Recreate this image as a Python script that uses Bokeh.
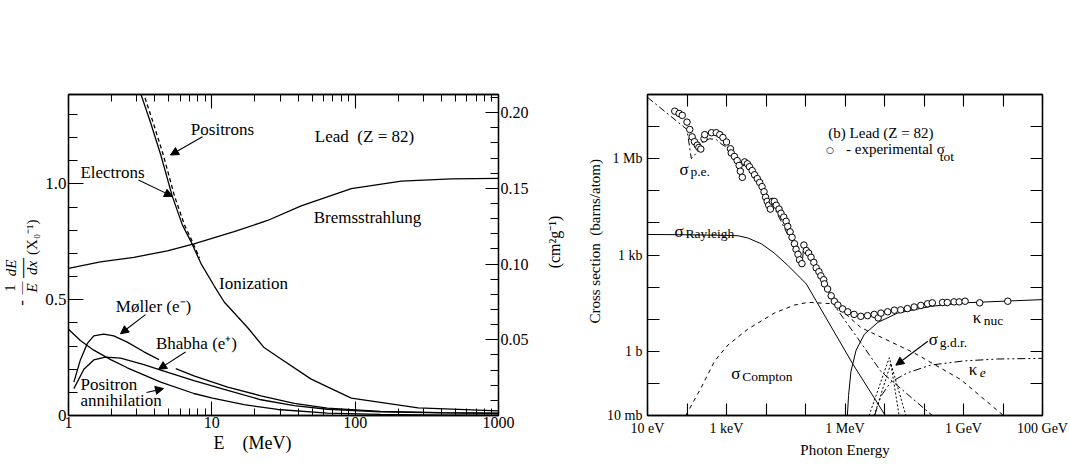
import math
from bokeh.plotting import figure
from bokeh.models import (Range1d, LinearAxis, LogAxis, FixedTicker, Title,
                          CustomJSTickFormatter, Label, Arrow, NormalHead)
from bokeh.layouts import row
from bokeh.embed import file_html
from bokeh.resources import INLINE

# ---------------- Left panel data: -(1/E) dE/dx  [X0^-1], E in MeV ----------------
brems_E = [1, 1.67, 2.86, 4.9, 7.5, 14.3, 24.5, 42, 94, 210, 470, 1000]
brems_y = [0.635, 0.663, 0.683, 0.711, 0.741, 0.794, 0.842, 0.905, 0.98, 1.012, 1.022, 1.024]

ion_el_E = [3.15, 3.74, 4.4, 5.3, 6.24, 7.14, 8.4, 10.4, 12.2, 17.8, 23, 28.8, 49, 68, 94, 275, 1000]
ion_el_y = [1.40, 1.264, 1.126, 0.946, 0.822, 0.752, 0.656, 0.559, 0.49, 0.379, 0.295, 0.254,
            0.158, 0.116, 0.075, 0.033, 0.02]

ion_pos_E = [3.3, 3.9, 4.58, 5.5, 6.45, 7.3, 8.2]
ion_pos_y = [1.40, 1.264, 1.126, 0.946, 0.822, 0.752, 0.68]

moller_E_a = [1.09, 1.21, 1.35, 1.5, 1.76, 2.07, 2.57, 3.36, 4.28]
moller_y_a = [0.144, 0.24, 0.31, 0.344, 0.351, 0.344, 0.317, 0.275, 0.241]
moller_E_b = [5.6, 7.5, 12.9, 22, 37.6, 64, 150, 400, 1000]
moller_y_b = [0.202, 0.171, 0.123, 0.085, 0.052, 0.032, 0.018, 0.012, 0.010]

bhabha_E = [1.09, 1.28, 1.5, 1.81, 2.31, 3.36, 4.4, 7.5, 12.9, 22, 37.6, 64, 150, 400, 1000]
bhabha_y = [0.116, 0.2, 0.24, 0.252, 0.248, 0.22, 0.196, 0.151, 0.109, 0.068, 0.043, 0.027,
            0.016, 0.011, 0.009]

annih_E = [1, 1.21, 1.5, 1.97, 2.57, 4.4, 7.5, 10.1, 16.8, 28.8, 64, 150, 400, 1000]
annih_y = [0.372, 0.324, 0.282, 0.241, 0.206, 0.144, 0.095, 0.075, 0.047, 0.026, 0.010, 0.005,
           0.002, 0.001]

left_x_ticks = [1, 10, 100, 1000]
left_y_ticks = [0, 0.5, 1.0]
right_y_ticks = [0.05, 0.10, 0.15, 0.20]

# ---------------- Right panel data: log10(E / eV), log10(sigma / barn) ----------------
exp_logE = [1.69, 1.80, 1.88, 2.00, 2.07, 2.13, 2.19, 2.26, 2.30, 2.35, 2.43, 2.45, 2.62, 2.74,
            2.83, 2.91, 3.00, 3.10, 3.12, 3.20, 3.27, 3.32, 3.35, 3.40, 3.46, 3.53, 3.58, 3.65,
            3.71, 3.78, 3.84, 3.90, 3.95, 3.99, 4.03, 4.07, 4.11, 4.16, 4.21, 4.26, 4.33, 4.38,
            4.45, 4.51, 4.55, 4.61, 4.66, 4.72, 4.76, 4.81, 4.85, 4.91, 4.96, 5.02, 5.08, 5.14,
            5.21, 5.27, 5.34, 5.39, 5.46, 5.48, 5.56, 5.65, 5.73, 5.82, 5.94, 6.07, 6.23, 6.40,
            6.57, 6.74, 6.84, 6.91, 7.08, 7.25, 7.41, 7.58, 7.75, 7.92, 8.09, 8.21, 8.47, 8.59,
            8.76, 8.89, 9.04, 9.41, 10.12]
exp_logS = [7.48, 7.41, 7.35, 7.14, 6.91, 6.68, 6.53, 6.42, 6.35, 6.30, 6.62, 6.75, 6.81, 6.81,
            6.75, 6.66, 6.52, 6.31, 6.18, 6.07, 5.94, 5.79, 5.61, 5.42, 5.90, 5.84, 5.75, 5.63,
            5.50, 5.38, 5.26, 5.13, 4.97, 4.80, 4.67, 4.55, 4.43, 4.67, 4.67, 4.55, 4.43, 4.30,
            4.18, 4.05, 3.89, 3.72, 3.55, 3.35, 3.18, 3.02, 2.85, 2.73, 3.31, 3.14, 3.06, 2.93,
            2.77, 2.60, 2.48, 2.35, 2.23, 2.10, 1.94, 1.73, 1.56, 1.44, 1.32, 1.23, 1.15, 1.09,
            1.11, 1.15, 1.04, 1.19, 1.23, 1.28, 1.29, 1.33, 1.38, 1.43, 1.48, 1.51, 1.52, 1.52,
            1.54, 1.54, 1.56, 1.51, 1.56]

pe_logE = [1.00, 2.00, 2.11, 2.32, 2.41, 2.57, 2.74, 2.87, 3.10, 3.38, 3.44, 3.97, 4.10, 4.14,
           4.92, 4.95, 5.46, 5.77, 6.32, 6.91, 8.21]
pe_logS = [7.91, 6.91, 6.00, 6.29, 6.54, 6.62, 6.60, 6.46, 6.28, 5.40, 5.88, 4.88, 4.42, 4.65,
           2.72, 3.30, 2.20, 1.36, 0.41, -0.63, -2.00]

ray_logE = [1.00, 2.00, 3.00, 3.29, 3.54, 3.88, 4.21, 4.55, 5.02, 6.19, 7.02]
ray_logS = [3.64, 3.63, 3.61, 3.60, 3.53, 3.35, 3.06, 2.68, 2.10, -0.38, -2.00]

comp_logE = [1.97, 2.36, 2.70, 3.04, 3.54, 4.21, 4.72, 5.04, 5.14, 5.73, 6.40, 7.75, 8.93, 10.01]
comp_logS = [-2.00, -1.13, -0.30, 0.20, 0.69, 1.19, 1.44, 1.52, 1.52, 1.48, 0.74, -0.05, -0.88, -2.00]

knuc_logE = [6.06, 6.07, 6.09, 6.15, 6.28, 6.49, 6.83, 7.33, 8.17, 9.01, 11.0]
knuc_logS = [-2.00, -1.80, -1.38, -0.63, 0.03, 0.53, 0.90, 1.19, 1.40, 1.51, 1.61]

ke_logE = [6.75, 6.91, 7.16, 7.58, 8.17, 9.01, 9.86, 11.0]
ke_logS = [-2.00, -1.40, -0.96, -0.67, -0.43, -0.30, -0.24, -0.22]

gdr1_logE = [6.61, 7.12, 7.54]
gdr1_logS = [-2.00, -0.20, -2.00]
gdr2_logE = [6.74, 7.16, 7.37]
gdr2_logS = [-2.00, -0.38, -2.00]

energy_ticks = [10.0 ** k for k in range(1, 12)]
energy_labels = {"1": "10 eV", "3": "1 keV", "6": "1 MeV", "9": "1 GeV", "11": "100 GeV"}
sigma_ticks = [10.0 ** k for k in range(-2, 9)]
sigma_labels = {"-2": "10 mb", "0": "1 b", "3": "1 kb", "6": "1 Mb"}

F = "Liberation Serif"
ROT = math.pi / 2
NB = "\u00a0"


def style_axis(ax, size, tin, mtin, standoff):
    ax.axis_line_color = "black"
    ax.axis_line_width = 1.3
    ax.major_tick_in = tin
    ax.major_tick_out = 0
    ax.minor_tick_in = mtin
    ax.minor_tick_out = 0
    ax.major_tick_line_color = "black"
    ax.minor_tick_line_color = "black"
    ax.major_tick_line_width = 1.1
    ax.minor_tick_line_width = 1.0
    ax.major_label_text_font = F
    ax.major_label_text_font_size = size
    ax.major_label_text_color = "black"
    ax.major_label_standoff = standoff


def lab(p, pos, px, py, text, size, align="center", baseline="middle",
        angle=0.0, style="normal", font=F):
    x, y = pos(px, py)
    p.add_layout(Label(x=x, y=y, text=text, text_font=font, text_font_size=size,
                       text_align=align, text_baseline=baseline, angle=angle,
                       text_font_style=style, text_color="black"))


def arrow(p, pos, x0, y0, x1, y1):
    xs, ys = pos(x0, y0)
    xe, ye = pos(x1, y1)
    p.add_layout(Arrow(end=NormalHead(size=8, fill_color="black", line_color="black", line_width=1),
                       x_start=xs, y_start=ys, x_end=xe, y_end=ye,
                       line_color="black", line_width=1.1))


def strip(width, x0):
    s = figure(width=width, height=468, x_range=Range1d(x0, x0 + width), y_range=Range1d(468, 0),
               x_axis_location=None, y_axis_location=None, output_backend="svg",
               toolbar_location=None, min_border=0, outline_line_color=None)
    s.grid.visible = False
    s.background_fill_color = "white"
    s.border_fill_color = "white"
    return s


def ident(px, py):
    return px, py


# ============================ LEFT STRIP: y-axis title ============================
s1 = strip(42, 0)
lab(s1, ident, 21, 304, "-", "17px", angle=ROT)
lab(s1, ident, 9, 282, "1", "15px", angle=ROT)
lab(s1, ident, 20, 282, "—", "13px", angle=ROT)
lab(s1, ident, 31, 282, "E", "15px", angle=ROT, style="italic")
lab(s1, ident, 10, 253, "dE", "15px", angle=ROT, style="italic")
lab(s1, ident, 21, 253, "—", "20px", angle=ROT)
lab(s1, ident, 31, 253, "dx", "15px", angle=ROT, style="italic")
lab(s1, ident, 31, 208, "(X₀⁻¹)", "15px", angle=ROT)

# ============================ LEFT PANEL ============================
p1 = figure(width=498, height=468, x_axis_type="log",
            x_range=Range1d(1, 1000), y_range=Range1d(0, 1.386),
            output_backend="svg", toolbar_location=None,
            min_border_left=26, min_border_right=42, min_border_top=94, min_border_bottom=40)
p1.xgrid.visible = False
p1.ygrid.visible = False
p1.outline_line_color = "black"
p1.outline_line_width = 1.3
p1.background_fill_color = "white"
p1.border_fill_color = "white"
p1.extra_y_ranges = {"cm": Range1d(0, 0.212)}

x_minor = [m * d for d in (1, 10, 100) for m in range(2, 10)]
xt1 = FixedTicker(ticks=left_x_ticks, minor_ticks=x_minor)
p1.xaxis.ticker = xt1
p1.xaxis.formatter = CustomJSTickFormatter(code="return String(Math.round(tick));")
style_axis(p1.xaxis[0], "16px", 14, 7, 1)

p1.yaxis.ticker = FixedTicker(ticks=left_y_ticks, minor_ticks=[round(0.1 * i, 2) for i in range(0, 14)])
p1.yaxis.formatter = CustomJSTickFormatter(code="return tick == 0 ? '0' : tick.toFixed(1);")
style_axis(p1.yaxis[0], "17px", 15, 9, 2)

top1 = LogAxis(ticker=xt1, formatter=CustomJSTickFormatter(code="return '';"))
style_axis(top1, "1px", 14, 7, 0)
p1.add_layout(top1, "above")

right1 = LinearAxis(y_range_name="cm",
                    ticker=FixedTicker(ticks=right_y_ticks,
                                       minor_ticks=[round(0.01 * i, 2) for i in range(1, 22)]),
                    formatter=CustomJSTickFormatter(code="return tick.toFixed(2);"))
style_axis(right1, "16px", 13, 8, 2)
p1.add_layout(right1, "right")

p1.add_layout(Title(text="E" + NB * 4 + "(MeV)", align="left", offset=145, standoff=0,
                    text_font=F, text_font_size="18px", text_font_style="normal",
                    text_color="black"), "below")

LW1 = 1.3
p1.line(brems_E, brems_y, line_color="black", line_width=LW1)
p1.line(ion_el_E, ion_el_y, line_color="black", line_width=LW1)
p1.line(ion_pos_E, ion_pos_y, line_color="black", line_width=LW1, line_dash="4 3")
p1.line(moller_E_a, moller_y_a, line_color="black", line_width=LW1)
p1.line(moller_E_b, moller_y_b, line_color="black", line_width=LW1)
p1.line(bhabha_E, bhabha_y, line_color="black", line_width=LW1)
p1.line(annih_E, annih_y, line_color="black", line_width=LW1)


def p1_pos(px, py):
    return 10 ** ((px - 68) / (430 / 3.0)), (428 - py) / (334 / 1.386)


LS = "17px"
lab(p1, p1_pos, 222, 130, "Positrons", LS)
arrow(p1, p1_pos, 202, 138, 170, 157)
lab(p1, p1_pos, 112, 175, "Electrons", LS)
arrow(p1, p1_pos, 138, 183, 172, 200)
lab(p1, p1_pos, 364, 138, "Lead" + NB * 2 + "(Z = 82)", LS)
lab(p1, p1_pos, 367, 222, "Bremsstrahlung", LS)
lab(p1, p1_pos, 253, 291, "Ionization", LS)
lab(p1, p1_pos, 153, 315, "Møller (e⁻)", LS)
arrow(p1, p1_pos, 145, 323, 120, 343)
lab(p1, p1_pos, 196, 353, "Bhabha (e⁺)", LS)
arrow(p1, p1_pos, 185, 362, 158, 380)
lab(p1, p1_pos, 80, 396, "Positron", LS, align="left")
lab(p1, p1_pos, 80, 412, "annihilation", LS, align="left")
arrow(p1, p1_pos, 146, 404, 163, 400)

# ============================ MIDDLE STRIP ============================
s2 = strip(64, 540)
lab(s2, ident, 554, 215, "(cm²g⁻¹)", "16px", angle=ROT)
lab(s2, ident, 594, 214, "Cross section" + NB * 2 + "(barns/atom)", "15px", angle=ROT)

# ============================ RIGHT PANEL ============================
p2 = figure(width=466, height=468, x_axis_type="log", y_axis_type="log",
            x_range=Range1d(10, 1e11), y_range=Range1d(1e-2, 1e8),
            output_backend="svg", toolbar_location=None,
            min_border_left=42, min_border_right=28, min_border_top=13, min_border_bottom=53)
p2.xgrid.visible = False
p2.ygrid.visible = False
p2.outline_line_color = "black"
p2.outline_line_width = 1.3
p2.background_fill_color = "white"
p2.border_fill_color = "white"

xt2 = FixedTicker(ticks=energy_ticks, minor_ticks=[])
yt2 = FixedTicker(ticks=sigma_ticks, minor_ticks=[])
xfmt = "const m = %s; const e = Math.round(Math.log10(tick)); return m[String(e)] || '';" % (
    str(energy_labels).replace("'", '"'))
yfmt = "const m = %s; const e = Math.round(Math.log10(tick)); return m[String(e)] || '';" % (
    str(sigma_labels).replace("'", '"'))
p2.xaxis.ticker = xt2
p2.xaxis.formatter = CustomJSTickFormatter(code=xfmt)
style_axis(p2.xaxis[0], "14px", 12, 0, 5)
p2.xaxis.axis_label = "Photon Energy"
p2.xaxis.axis_label_text_font = F
p2.xaxis.axis_label_text_font_size = "15px"
p2.xaxis.axis_label_text_font_style = "normal"
p2.xaxis.axis_label_text_color = "black"
p2.xaxis.axis_label_standoff = 3
p2.yaxis.ticker = yt2
p2.yaxis.formatter = CustomJSTickFormatter(code=yfmt)
style_axis(p2.yaxis[0], "14px", 12, 0, 5)

top2 = LogAxis(ticker=xt2, formatter=CustomJSTickFormatter(code="return '';"))
style_axis(top2, "1px", 12, 0, 0)
p2.add_layout(top2, "above")
right2 = LogAxis(ticker=yt2, formatter=CustomJSTickFormatter(code="return '';"))
style_axis(right2, "1px", 12, 0, 0)
p2.add_layout(right2, "right")


def tenpow(vals):
    return [10.0 ** v for v in vals]


LW2 = 1.0
p2.line(tenpow(ray_logE), tenpow(ray_logS), line_color="black", line_width=LW2)
p2.line(tenpow(comp_logE), tenpow(comp_logS), line_color="black", line_width=LW2, line_dash="4 4")
p2.line(tenpow(pe_logE), tenpow(pe_logS), line_color="black", line_width=LW2, line_dash="7 3 2 3")
p2.line(tenpow(knuc_logE), tenpow(knuc_logS), line_color="black", line_width=LW2)
p2.line(tenpow(ke_logE), tenpow(ke_logS), line_color="black", line_width=LW2, line_dash="8 3 2 3 2 3")
p2.line(tenpow(gdr1_logE), tenpow(gdr1_logS), line_color="black", line_width=LW2, line_dash="2 2")
p2.line(tenpow(gdr2_logE), tenpow(gdr2_logS), line_color="black", line_width=LW2, line_dash="2 2")
p2.scatter(tenpow(exp_logE), tenpow(exp_logS), marker="circle", size=6.5,
           fill_color="white", line_color="black", line_width=1)


def p2_pos(px, py):
    return 10 ** (1 + (px - 646) / 39.6), 10 ** (-2 + (415 - py) / 40.2)


SIG = "17px"
SUB = "13.5px"
lab(p2, p2_pos, 880, 61, "(b) Lead (Z = 82)", "15px")
lab(p2, p2_pos, 829, 82, "○", "9px", font="DejaVu Sans")
lab(p2, p2_pos, 845, 81, "- experimental σ", "15px", align="left")
lab(p2, p2_pos, 939, 91, "tot", SUB, align="left", baseline="alphabetic")

lab(p2, p2_pos, 678, 107, "σ", SIG, align="left", baseline="alphabetic")
lab(p2, p2_pos, 689, 110, "p.e.", SUB, align="left", baseline="alphabetic")
lab(p2, p2_pos, 673, 185, "σ", SIG, align="left", baseline="alphabetic")
lab(p2, p2_pos, 684, 187, "Rayleigh", SUB, align="left", baseline="alphabetic")
lab(p2, p2_pos, 730, 363, "σ", SIG, align="left", baseline="alphabetic")
lab(p2, p2_pos, 741, 366, "Compton", SUB, align="left", baseline="alphabetic")
lab(p2, p2_pos, 972, 292, "κ", SIG, align="left", baseline="alphabetic")
lab(p2, p2_pos, 983, 296, "nuc", SUB, align="left", baseline="alphabetic")
lab(p2, p2_pos, 928, 320, "σ", SIG, align="left", baseline="alphabetic")
lab(p2, p2_pos, 939, 324, "g.d.r.", SUB, align="left", baseline="alphabetic")
arrow(p2, p2_pos, 927, 322, 895, 352)
lab(p2, p2_pos, 968, 358, "κ", SIG, align="left", baseline="alphabetic")
lab(p2, p2_pos, 979, 362, "e", SUB, align="left", baseline="alphabetic", style="italic")

layout = row(s1, p1, s2, p2)
open("out.html", "w").write(file_html(layout, INLINE))
